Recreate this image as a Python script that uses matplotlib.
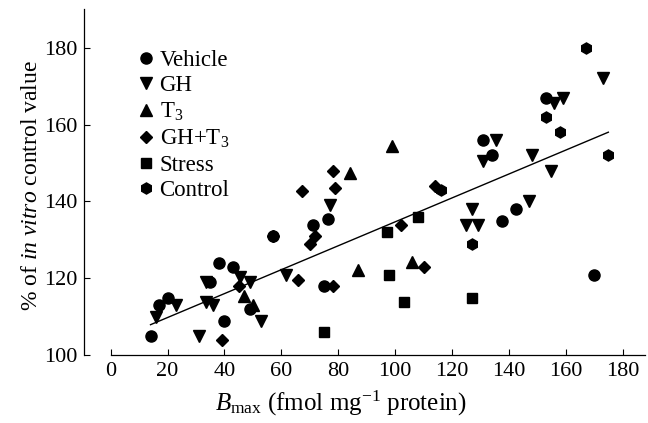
import matplotlib
matplotlib.use("Agg")
import matplotlib.pyplot as plt

plt.rcParams['font.family'] = ['Liberation Serif', 'DejaVu Serif']
plt.rcParams['mathtext.fontset'] = 'custom'
plt.rcParams['mathtext.rm'] = 'Liberation Serif'
plt.rcParams['mathtext.it'] = 'Liberation Serif:italic'

# Data (Bmax, % of in vitro control)
vehicle_x = [14, 17, 20, 35, 38, 43, 40, 49, 57, 71, 76.5, 75, 131, 134, 137.5, 142.7, 153, 170]
vehicle_y = [105, 113, 115, 119, 124, 123, 109, 112, 131, 134, 135.5, 118, 156, 152, 135, 138, 167, 121]

gh_x = [16, 23, 31, 33.5, 36, 33.5, 45.5, 49, 53, 61.5, 77, 125, 129, 127, 131, 135.5, 147, 148, 155, 156, 159, 173]
gh_y = [110, 113, 105, 114, 113, 119, 120.5, 119, 109, 121, 139, 134, 134, 138, 150.5, 156, 140, 152, 148, 165.5, 167, 172]

t3_x = [47, 50, 84, 87, 99, 106]
t3_y = [115.5, 113, 147.5, 122.3, 154.4, 124.3]

ghT3_x = [39.3, 45, 57, 66, 67.4, 70, 72, 78, 78.3, 79, 102, 110, 114]
ghT3_y = [104, 118, 131, 119.7, 142.7, 129, 131, 148, 118, 143.5, 134, 123, 144]

stress_x = [75, 97, 98, 103, 108, 127]
stress_y = [106, 132, 121, 114, 136, 115]

control_x = [116, 127, 153, 158, 167, 175]
control_y = [143, 129, 162, 158, 180, 152]

fit_x = [14, 175]
fit_y = [108, 158]

xticks = [0, 20, 40, 60, 80, 100, 120, 140, 160, 180]
yticks = [100, 120, 140, 160, 180]

fig = plt.figure(figsize=(6.48, 4.23), dpi=100)
ax = fig.add_axes([0.1296, 0.1596, 0.8658, 0.8191])

ms = 8
ax.plot(vehicle_x, vehicle_y, 'o', color='black', ms=ms, label='Vehicle', zorder=3)
ax.plot(gh_x, gh_y, 'v', color='black', ms=ms, label='GH', zorder=3)
ax.plot(t3_x, t3_y, '^', color='black', ms=ms, label='T$_3$', zorder=3)
ax.plot(ghT3_x, ghT3_y, 'D', color='black', ms=6.5, label='GH+T$_3$', zorder=3)
ax.plot(stress_x, stress_y, 's', color='black', ms=7, label='Stress', zorder=3)
ax.plot(control_x, control_y, 'h', color='black', ms=ms, label='Control', zorder=3)
ax.plot(fit_x, fit_y, '-', color='black', lw=1.0, zorder=2)

ax.set_xlim(-9.4, 187.9)
ax.set_ylim(100, 190)
ax.set_xticks(xticks)
ax.set_yticks(yticks)
ax.tick_params(direction='in', length=4, width=0.8, labelsize=16, colors='black', pad=5)
for s in ['top', 'right']:
    ax.spines[s].set_visible(False)
ax.spines['bottom'].set_bounds(0, 187.9)
for s in ['left', 'bottom']:
    ax.spines[s].set_linewidth(0.9)

ax.set_xlabel(r'$B_{\mathrm{max}}$ (fmol mg$^{\mathrm{-1}}$ protein)', fontsize=18)
ax.set_ylabel(r'% of $\mathit{in\ vitro}$ control value', fontsize=17)
ax.xaxis.set_label_coords(0.458, -0.097)
ax.yaxis.set_label_coords(-0.075, 0.49)

leg = ax.legend(loc='upper left', bbox_to_anchor=(0.098, 0.883), frameon=False,
                fontsize=16.5, handlelength=0.6, handletextpad=0.3,
                labelspacing=0.2, borderaxespad=0, borderpad=0, markerscale=1.0)

fig.savefig('out.png', dpi=100)
